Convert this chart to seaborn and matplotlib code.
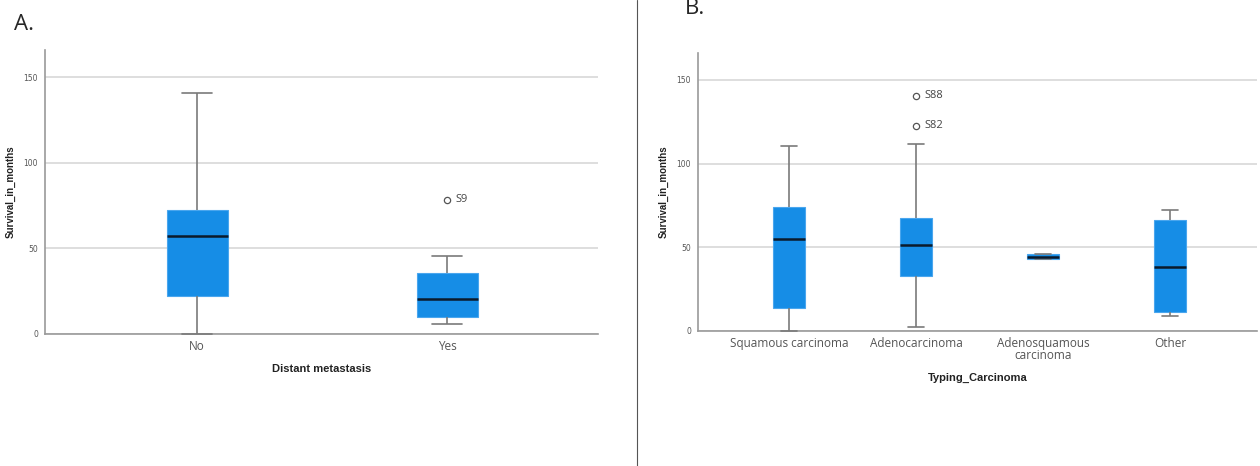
import numpy as np
import pandas as pd
import matplotlib
import matplotlib.pyplot as plt
import seaborn as sns

matplotlib.use('agg')

# five-number summaries: low whisker, Q1, median, Q3, high whisker
meta_groups = ['No', 'Yes']
meta_stats = [[0.0, 22.4, 57.3, 72.4, 140.8],
              [5.9, 10.0, 20.2, 35.9, 45.3]]
meta_out_group = ['Yes']
meta_out_value = [78.5]
meta_out_label = ['S9']

type_groups = ['Squamous carcinoma', 'Adenocarcinoma', 'Adenosquamous\ncarcinoma', 'Other']
type_stats = [[0.0, 13.5, 55.2, 74.0, 110.5],
              [2.4, 33.0, 51.6, 67.5, 111.4],
              [43.0, 43.0, 44.4, 45.8, 45.8],
              [8.7, 11.6, 38.0, 66.2, 72.0]]
type_out_group = ['Adenocarcinoma', 'Adenocarcinoma']
type_out_value = [140.5, 122.7]
type_out_label = ['S88', 'S82']

BLUE = '#168DE6'
GREY = '#7a7a7a'


def long_frame(groups, stats):
    rows = []
    for g, s in zip(groups, stats):
        for v in s:
            rows.append((g, v))
    return pd.DataFrame(rows, columns=['group', 'value'])


def draw_panel(ax, groups, stats, out_g, out_v, out_l, xlabel, width, xlim):
    df = long_frame(groups, stats)
    sns.boxplot(data=df, x='group', y='value', order=groups, ax=ax, whis=np.inf,
                color=BLUE, saturation=1, width=width, linewidth=1.2, zorder=3,
                boxprops=dict(facecolor=BLUE, edgecolor='#4aa6ee', linewidth=0.8),
                whiskerprops=dict(color=GREY, linewidth=1.2),
                capprops=dict(color=GREY, linewidth=1.2),
                medianprops=dict(color='#0b1a2b', linewidth=1.8))
    odf = pd.DataFrame({'group': out_g, 'value': out_v})
    sns.stripplot(data=odf, x='group', y='value', order=groups, ax=ax, jitter=False,
                  size=4.5, color='white', edgecolor='#555555', linewidth=0.9, zorder=5)
    for g, v, l in zip(out_g, out_v, out_l):
        ax.annotate(l, (groups.index(g), v), xytext=(6, 0), textcoords='offset points',
                    va='center', ha='left', fontsize=8, color='#444444', family='Open Sans')
    ax.set_xlim(*xlim)
    ax.set_ylim(0, 166)
    ax.set_yticks([0, 50, 100, 150])
    ax.yaxis.grid(True, color='#d4d4d4', linewidth=1.1)
    ax.xaxis.grid(False)
    ax.set_axisbelow(True)
    for s in ['top', 'right']:
        ax.spines[s].set_visible(False)
    for s in ['left', 'bottom']:
        ax.spines[s].set_color('#9a9a9a')
        ax.spines[s].set_linewidth(1.2)
        ax.spines[s].set_zorder(2)
    for line in ax.lines:
        line.set_clip_on(False)
    ax.tick_params(axis='y', length=0, pad=5, labelsize=5.5, labelcolor='#555555')
    ax.tick_params(axis='x', length=0, pad=4, labelsize=8.5, labelcolor='#555555')
    for t in ax.get_xticklabels():
        t.set_family('Open Sans')
        t.set_linespacing(0.9)
    ax.set_ylabel('Survival_in_months', fontsize=7, fontweight='bold',
                  family='Liberation Sans', color='#222222', labelpad=6)
    ax.set_xlabel(xlabel, fontsize=8, fontweight='bold', family='Liberation Sans',
                  color='#222222', labelpad=8)


sns.set_style('white')
fig = plt.figure(figsize=(12.6, 4.66), dpi=100)
ax1 = fig.add_axes([0.0357, 0.2833, 0.4389, 0.6094])
ax2 = fig.add_axes([0.554, 0.2897, 0.444, 0.5966])

draw_panel(ax1, meta_groups, meta_stats, meta_out_group, meta_out_value, meta_out_label,
           'Distant metastasis', 0.244, (-0.608, 1.603))
draw_panel(ax2, type_groups, type_stats, type_out_group, type_out_value, type_out_label,
           'Typing_Carcinoma', 0.25, (-0.717, 3.69))

fig.text(14 / 1260, 1 - 25 / 466, 'A.', fontsize=16, family='Open Sans', va='center', ha='left')
fig.text(685 / 1260, 1 - 8 / 466, 'B.', fontsize=16, family='Open Sans', va='center', ha='left')
fig.add_artist(plt.Line2D([637 / 1260, 637 / 1260], [0, 1], color='#555555', linewidth=0.8))

fig.savefig('out.png', dpi=100)
